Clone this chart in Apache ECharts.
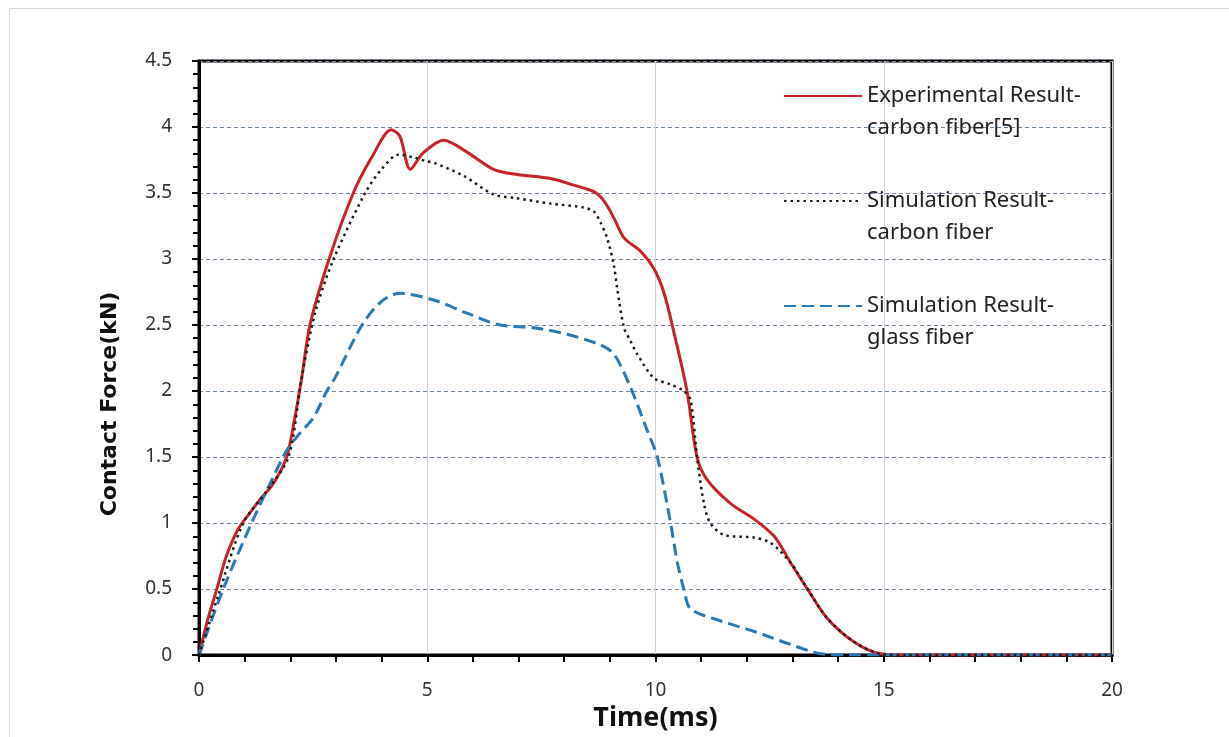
<!DOCTYPE html>
<html>
<head>
<meta charset="utf-8">
<style>
html, body { margin: 0; padding: 0; background: #fff; }
#chart { width: 1229px; height: 737px; }
</style>
<script src="https://cdn.jsdelivr.net/npm/echarts@6/dist/echarts.min.js"></script>
</head>
<body>
<div id="chart"></div>
<script>
// values (time in ms, force in kN)
const expTime = [0, 0.2, 0.39, 0.6, 0.85, 1.1, 1.34, 1.63, 1.92, 2.1, 2.25, 2.43, 2.85, 3.38, 3.8, 4.21, 4.4, 4.63, 4.9, 5.36, 5.87, 6.45, 6.97, 7.7, 8.21, 8.65, 8.87, 9.09, 9.31, 9.67, 9.96, 10.18, 10.4, 10.69, 10.91, 11.13, 11.64, 12.16, 12.6, 12.96, 13.33, 13.76, 14.35, 14.93, 15.5, 20];
const expForce = [0, 0.28, 0.5, 0.75, 0.95, 1.07, 1.18, 1.3, 1.5, 1.8, 2.1, 2.5, 3.0, 3.5, 3.78, 3.98, 3.93, 3.68, 3.8, 3.9, 3.81, 3.68, 3.64, 3.61, 3.56, 3.51, 3.44, 3.31, 3.16, 3.06, 2.93, 2.75, 2.45, 2.0, 1.5, 1.33, 1.15, 1.03, 0.9, 0.7, 0.5, 0.28, 0.1, 0.01, 0, 0];

const carbonTime = [0, 0.42, 0.97, 1.5, 1.96, 2.25, 2.55, 2.95, 3.64, 4.0, 4.37, 4.7, 4.99, 5.14, 5.8, 6.45, 6.97, 7.7, 8.43, 8.65, 8.79, 8.94, 9.09, 9.16, 9.31, 9.45, 9.6, 9.96, 10.33, 10.62, 10.77, 10.91, 11.06, 11.2, 11.5, 12.16, 12.52, 12.96, 13.33, 13.76, 14.35, 14.93, 15.5, 20];
const carbonForce = [0, 0.45, 1.0, 1.25, 1.5, 2.1, 2.6, 3.0, 3.5, 3.68, 3.79, 3.77, 3.74, 3.73, 3.63, 3.49, 3.46, 3.42, 3.39, 3.36, 3.28, 3.16, 2.95, 2.78, 2.48, 2.38, 2.28, 2.1, 2.05, 2.0, 1.93, 1.5, 1.15, 1.0, 0.91, 0.89, 0.85, 0.7, 0.5, 0.28, 0.1, 0.01, 0, 0];

const glassTime = [0, 0.53, 1.15, 1.56, 1.92, 2.21, 2.51, 2.8, 2.98, 3.57, 4.0, 4.4, 5.14, 5.87, 6.6, 7.33, 8.06, 8.79, 9.09, 9.45, 9.82, 10.04, 10.33, 10.48, 10.62, 10.77, 11.42, 12.16, 12.88, 13.62, 14.2, 20];
const glassForce = [0, 0.5, 1.0, 1.3, 1.55, 1.68, 1.8, 2.0, 2.1, 2.5, 2.68, 2.74, 2.69, 2.59, 2.5, 2.48, 2.43, 2.35, 2.28, 2.03, 1.7, 1.5, 1.0, 0.7, 0.5, 0.35, 0.26, 0.18, 0.09, 0.01, 0, 0];

const seriesNames = [
  "Experimental Result-carbon fiber[5]",
  "Simulation Result-carbon fiber",
  "Simulation Result-glass fiber",
];
const legendLines = [
  ["Experimental Result-", "carbon fiber[5]"],
  ["Simulation Result-", "carbon fiber"],
  ["Simulation Result-", "glass fiber"],
];

const xLabel = "Time(ms)";
const yLabel = "Contact Force(kN)";

function pairs(ts, vs) {
  return ts.map((t, i) => [t, vs[i]]);
}

const tickFont = "Noto Sans";
const chart = echarts.init(document.getElementById("chart"), null, { renderer: "canvas" });

chart.setOption({
  animation: false,
  backgroundColor: "#fff",
  grid: {
    left: 199, right: 117, top: 61, bottom: 77,
    show: true, borderColor: "#000", borderWidth: 3, backgroundColor: "transparent",
  },
  legend: {
    data: seriesNames,
    orient: "vertical",
    left: 783,
    top: 48,
    padding: 0,
    itemWidth: 78,
    itemHeight: 14,
    itemGap: 9,
    itemStyle: { opacity: 0 },
    textStyle: { fontFamily: tickFont, fontSize: 22, lineHeight: 32, color: "#222" },
    formatter: (name) => "\n" + legendLines[seriesNames.indexOf(name)].join("\n"),
  },
  xAxis: {
    type: "value",
    min: 0,
    max: 20,
    interval: 5,
    axisLine: { show: true, onZero: false, lineStyle: { color: "#000", width: 3 } },
    axisTick: { show: true, length: 7, lineStyle: { color: "#000", width: 2 } },
    minorTick: { show: true, splitNumber: 5, length: 7, lineStyle: { color: "#000", width: 2 } },
    splitLine: { show: true, lineStyle: { color: "#d3d3d3", width: 1 } },
    axisLabel: { margin: 26, fontSize: 19, color: "#333", fontFamily: tickFont },
    name: xLabel,
    nameLocation: "middle",
    nameGap: 38,
    nameTextStyle: { fontSize: 27, fontWeight: "bold", fontFamily: tickFont, color: "#111" },
  },
  yAxis: {
    type: "value",
    min: 0,
    max: 4.5,
    interval: 0.5,
    axisLine: { show: true, onZero: false, lineStyle: { color: "#000", width: 3 } },
    axisTick: { show: true, length: 7, lineStyle: { color: "#000", width: 2 } },
    minorTick: { show: true, splitNumber: 5, length: 6, lineStyle: { color: "#000", width: 2 } },
    splitLine: { show: true, lineStyle: { color: "#6f86a0", width: 1, type: [4, 3] } },
    axisLabel: { margin: 27, fontSize: 19, color: "#333", fontFamily: tickFont },
  },
  graphic: [
    {
      type: "rect",
      shape: { x: 9.5, y: 8.5, width: 1240, height: 760 },
      style: { fill: "none", stroke: "#d9d9d9", lineWidth: 1 },
      silent: true,
    },
    {
      type: "text",
      x: 110,
      y: 404,
      rotation: Math.PI / 2,
      style: {
        text: yLabel,
        font: 'bold 22px "DejaVu Sans"',
        fill: "#111",
        align: "center",
        verticalAlign: "middle",
      },
      silent: true,
    },
  ],
  series: [
    {
      name: seriesNames[0],
      type: "line",
      data: pairs(expTime, expForce),
      symbol: "none",
      smooth: 0.3,
      z: 2,
      itemStyle: { color: "#C8232B" },
      lineStyle: { color: "#C8232B", width: 3 },
    },
    {
      name: seriesNames[1],
      type: "line",
      data: pairs(carbonTime, carbonForce),
      symbol: "none",
      smooth: 0.3,
      z: 4,
      itemStyle: { color: "#1a1a1a" },
      lineStyle: { color: "#1a1a1a", width: 2.5, type: [2.5, 4] },
    },
    {
      name: seriesNames[2],
      type: "line",
      data: pairs(glassTime, glassForce),
      symbol: "none",
      smooth: 0.3,
      z: 3,
      itemStyle: { color: "#2B79B0" },
      lineStyle: { color: "#2B79B0", width: 3, type: [12, 6] },
    },
  ],
});
</script>
</body>
</html>
